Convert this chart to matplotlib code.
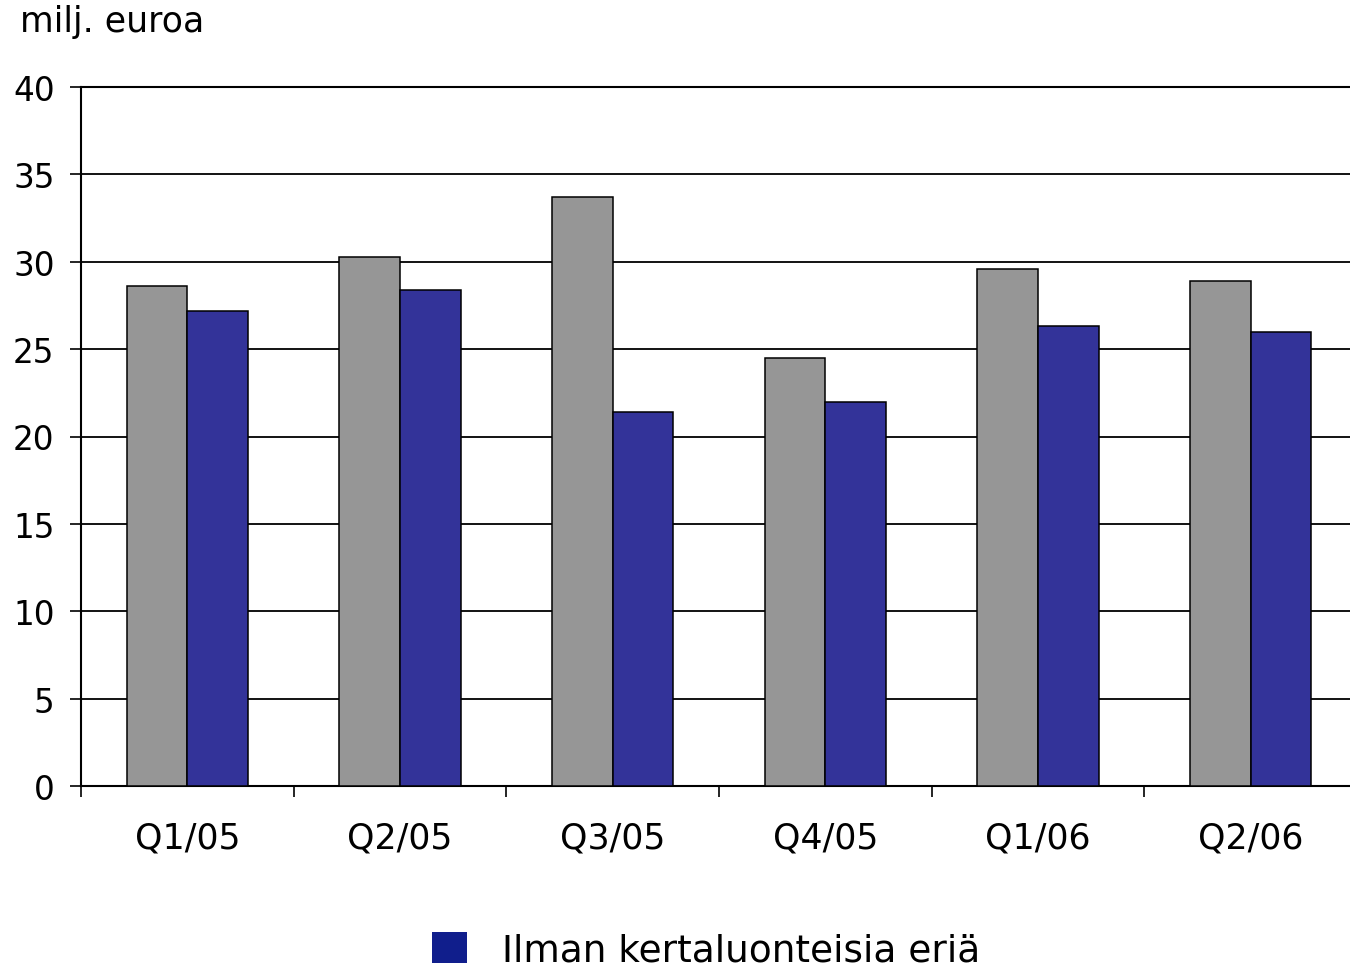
import numpy as np
import matplotlib.pyplot as plt
from matplotlib.patches import Patch

quarters = ["Q1/05", "Q2/05", "Q3/05", "Q4/05", "Q1/06", "Q2/06"]
total = [28.6, 30.3, 33.7, 24.5, 29.6, 28.9]
excl_one_off = [27.2, 28.4, 21.4, 22.0, 26.3, 26.0]
legend_label = "Ilman kertaluonteisia eriä"
unit_label = "milj. euroa"

plt.rcParams['font.family'] = ['DejaVu Sans']

fig = plt.figure(figsize=(13.5, 9.7), dpi=100)
ax = fig.add_axes([81 / 1350, 1 - 787 / 970, (1357 - 81) / 1350, (787 - 88) / 970])

x = np.arange(len(quarters))
w = 0.285
ax.bar(x - w / 2, total, w, color="#969696", edgecolor="black", linewidth=1.1, zorder=3)
ax.bar(x + w / 2, excl_one_off, w, color="#333399", edgecolor="black", linewidth=1.1, zorder=3)

ax.set_xlim(-0.5, len(quarters) - 0.5)
ax.set_ylim(0, 40)
ax.set_yticks(range(0, 41, 5))
ax.yaxis.grid(True, color="black", linewidth=1.3, zorder=0)
ax.set_axisbelow(True)

ax.set_xticks(np.arange(-0.5, len(quarters), 1.0))
ax.set_xticklabels([])
ax.set_xticks(x, minor=True)
ax.set_xticklabels(quarters, minor=True)
ax.tick_params(axis="x", which="major", length=8, width=1.2, direction="out")
ax.tick_params(axis="x", which="minor", length=0, pad=25, labelsize=25)
ax.tick_params(axis="y", length=8, width=1.2, pad=11, labelsize=23.5)

for s in ["left", "bottom", "top"]:
    ax.spines[s].set_linewidth(1.5)
    ax.spines[s].set_color("black")
ax.spines["right"].set_visible(False)

fig.text(20 / 1350, 1 - 22 / 970, unit_label, fontsize=25, va="center", ha="left")

fig.legend(handles=[Patch(facecolor="#101e8c", edgecolor="none")], labels=[legend_label],
           loc="center left", bbox_to_anchor=(432 / 1350, 1 - 951 / 970), frameon=False,
           fontsize=27, handlelength=0.93, handleheight=0.93, handletextpad=0.95, borderpad=0,
           borderaxespad=0)

fig.savefig("out.png", dpi=100)
